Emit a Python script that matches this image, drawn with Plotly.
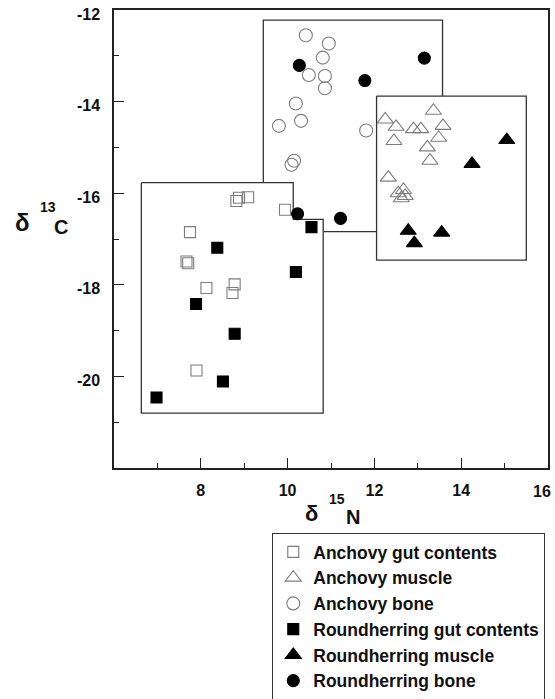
import plotly.graph_objects as go

# ---------------- data ----------------
anch_gut_n = [8.82, 8.88, 9.09, 9.94, 7.75, 7.71, 7.67, 8.13, 8.78, 8.73, 7.90]
anch_gut_c = [-16.17, -16.10, -16.09, -16.36, -16.85, -17.53, -17.49, -18.07, -17.99, -18.18, -19.87]

anch_mus_n = [13.36, 12.25, 12.50, 12.90, 13.07, 13.58, 13.48, 12.45, 13.22, 13.28, 12.32, 12.55, 12.67, 12.71, 12.62]
anch_mus_c = [-14.20, -14.39, -14.55, -14.60, -14.60, -14.53, -14.79, -14.86, -15.00, -15.29, -15.66, -16.00, -15.93, -16.06, -16.11]

anch_bone_n = [10.42, 10.95, 10.81, 10.49, 10.86, 10.86, 10.19, 10.31, 9.80, 11.81, 10.15, 10.09]
anch_bone_c = [-12.55, -12.73, -13.04, -13.42, -13.44, -13.71, -14.04, -14.42, -14.53, -14.63, -15.29, -15.38]

rh_gut_n = [8.38, 10.55, 10.19, 7.89, 8.78, 8.51, 6.98]
rh_gut_c = [-17.19, -16.74, -17.72, -18.42, -19.07, -20.11, -20.46]

rh_mus_n = [15.05, 14.25, 12.78, 12.92, 13.55]
rh_mus_c = [-14.84, -15.36, -16.82, -17.09, -16.86]

rh_bone_n = [10.27, 13.15, 11.78, 10.23, 11.22]
rh_bone_c = [-13.21, -13.05, -13.54, -16.45, -16.55]

# outline polygons of the three tissue groups (data coordinates)
gut_box_n = [6.63, 10.13, 10.13, 10.82, 10.82, 6.63, 6.63]
gut_box_c = [-15.77, -15.77, -16.57, -16.57, -20.80, -20.80, -15.77]
bone_box_n = [9.44, 9.44, 13.57, 13.57]
bone_box_c = [-15.77, -12.22, -12.22, -13.88]
bone_base_n = [10.82, 12.05]
bone_base_c = [-16.84, -16.84]
muscle_box_n = [12.05, 15.50, 15.50, 12.05, 12.05]
muscle_box_c = [-13.88, -13.88, -17.46, -17.46, -13.88]

x_ticks = [8, 10, 12, 14, 16]
x_tick_labels = ["8", "10", "12", "14", ""]   # "16" is placed flush with the right edge below
x_last_label = "16"
x_minor = [7, 9, 11, 13, 15]
y_ticks = [-12, -14, -16, -18, -20]
y_tick_labels = ["-12", "-14", "-16", "-18", "-20"]
y_minor = [-13, -15, -17, -19, -21]

series_names = ["Anchovy gut contents", "Anchovy muscle", "Anchovy bone",
                "Roundherring gut contents", "Roundherring muscle", "Roundherring bone"]

# ---------------- figure ----------------
FONT = "Liberation Sans"
GRAY = "#7c7c7c"
LINE = "#333333"

fig = go.Figure()

def outline(xs, ys):
    return "M " + " L ".join(f"{x},{y}" for x, y in zip(xs, ys))

for xs, ys in [(gut_box_n, gut_box_c), (bone_box_n, bone_box_c),
               (bone_base_n, bone_base_c), (muscle_box_n, muscle_box_c)]:
    fig.add_shape(type="path", path=outline(xs, ys), xref="x", yref="y",
                  line=dict(color=LINE, width=1.3), layer="below")

specs = [
    (anch_gut_n, anch_gut_c, "square-open", 11, GRAY),
    (anch_mus_n, anch_mus_c, "triangle-up-open", 14, GRAY),
    (anch_bone_n, anch_bone_c, "circle-open", 13, GRAY),
    (rh_gut_n, rh_gut_c, "square", 11, "black"),
    (rh_mus_n, rh_mus_c, "triangle-up", 14, "black"),
    (rh_bone_n, rh_bone_c, "circle", 12, "black"),
]
for i, ((xs, ys, sym, sz, col), name) in enumerate(zip(specs, series_names)):
    fig.add_trace(go.Scatter(
        x=xs, y=ys, mode="markers", name=name, legendgroup=f"g{i}",
        marker=dict(symbol=sym, size=sz, color=col,
                    line=dict(color=col, width=1.1)),
    ))

axis_common = dict(
    showgrid=False, zeroline=False, showline=True, mirror=True,
    linecolor="#222222", linewidth=1.5, ticks="inside", ticklen=10,
    tickcolor="#222222", tickwidth=1.3, ticklabeloverflow="allow",
    tickfont=dict(family=FONT, size=16, color="#111111", weight="bold"),
)
fig.update_xaxes(range=[6, 16], tickmode="array", tickvals=x_ticks, ticktext=x_tick_labels,
                 minor=dict(tickmode="array", tickvals=x_minor, ticks="inside",
                            ticklen=5, tickcolor="#222222"),
                 ticklabelstandoff=7, automargin=False, **axis_common)
fig.update_yaxes(range=[-22, -12], tickmode="array", tickvals=y_ticks, ticktext=y_tick_labels,
                 minor=dict(tickmode="array", tickvals=y_minor, ticks="inside",
                            ticklen=5, tickcolor="#222222"),
                 ticklabelstandoff=9, ticklabelshift=4, automargin=False, **axis_common)

def label(x, y, text, size, xanchor="center"):
    fig.add_annotation(x=x, y=y, xref="paper", yref="paper", text=text,
                       showarrow=False, xanchor=xanchor, yanchor="middle",
                       font=dict(family=FONT, size=size, color="#111111", weight="bold"))

# last x tick label, kept inside the page like in the reference
label(1.0115, -0.0503, x_last_label, 16, xanchor="right")

# y title: δ 13C
label(-0.2108, 0.536, "δ", 24)
label(-0.1514, 0.5688, "13", 14)
label(-0.1221, 0.5269, "C", 20)
# x title: δ 15N
label(0.4555, -0.0983, "δ", 22)
label(0.5138, -0.0677, "15", 14)
label(0.5500, -0.1080, "N", 20)

fig.update_layout(
    width=555, height=699,
    margin=dict(l=114, r=7, t=10, b=231, autoexpand=False),
    paper_bgcolor="white", plot_bgcolor="white",
    showlegend=True,
    legend=dict(x=0.3647, y=-0.1420, xanchor="left", yanchor="top",
                bordercolor="#333333", borderwidth=1, bgcolor="white",
                tracegroupgap=6, traceorder="normal",
                font=dict(family=FONT, size=17.5, color="#111111", weight="bold")),
)

fig.write_html("out.html")
